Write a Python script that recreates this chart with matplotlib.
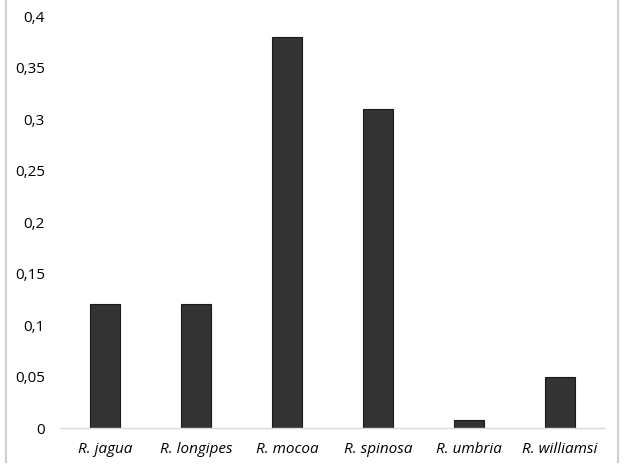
import matplotlib

matplotlib.use("Agg")
import matplotlib.pyplot as plt
from matplotlib.lines import Line2D
from matplotlib.ticker import FuncFormatter

species = ["R. jagua", "R. longipes", "R. mocoa", "R. spinosa", "R. umbria", "R. williamsi"]
values = [0.12, 0.12, 0.38, 0.31, 0.008, 0.05]
yticks = [0, 0.05, 0.1, 0.15, 0.2, 0.25, 0.3, 0.35, 0.4]

plt.rcParams["font.family"] = ["Open Sans", "DejaVu Sans"]

fig = plt.figure(figsize=(6.24, 4.67), dpi=100)
ax = fig.add_axes([0.0962, 0.0835, 0.8734, 0.8822])

x = range(len(species))
ax.bar(x, values, width=0.33, color="#333333", edgecolor="#1a1a1a", linewidth=0.8)

ax.set_xlim(-0.5, len(species) - 0.5)
ax.set_ylim(0, 0.4)
ax.set_yticks(yticks)
ax.yaxis.set_major_formatter(FuncFormatter(lambda v, _: f"{v:g}".replace(".", ",")))
ax.set_xticks(list(x))
ax.set_xticklabels(species, fontstyle="italic")
ax.tick_params(axis="both", length=0, labelsize=11, colors="#000000")
ax.tick_params(axis="y", pad=11)
ax.tick_params(axis="x", pad=10)

for side in ("top", "right", "left"):
    ax.spines[side].set_visible(False)
ax.spines["bottom"].set_color("#d9d9d9")
ax.spines["bottom"].set_linewidth(1)

# chart frame (left/right borders)
fig.add_artist(Line2D([6 / 624, 6 / 624], [5 / 467, 1], color="#d0d0d0", lw=1.5))
fig.add_artist(Line2D([618 / 624, 618 / 624], [5 / 467, 1], color="#d0d0d0", lw=1.5))

fig.savefig("out.png", dpi=100)
